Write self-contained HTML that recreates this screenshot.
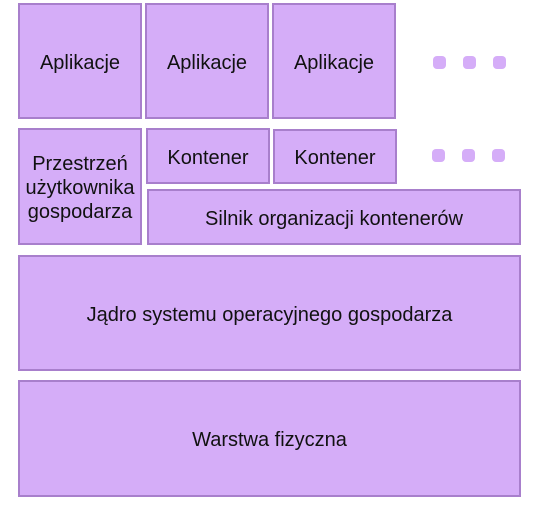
<!DOCTYPE html>
<html><head><meta charset="utf-8"><style>
body{margin:0;width:541px;height:507px;background:#fff;position:relative;font-family:"Liberation Sans",Arial,sans-serif;}
.b{position:absolute;box-sizing:border-box;background:#d5adf8;border:2px solid #a87fcc;display:flex;align-items:center;justify-content:center;text-align:center;font-size:20px;color:#111;line-height:24px;padding-top:3px;}
.d{position:absolute;width:13px;height:13px;border-radius:4px;background:#d5adf8;}
</style></head><body>
<div class="b" style="left:18px;top:3px;width:124px;height:116px">Aplikacje</div>
<div class="b" style="left:145px;top:3px;width:124px;height:116px">Aplikacje</div>
<div class="b" style="left:272px;top:3px;width:124px;height:116px">Aplikacje</div>
<div class="d" style="left:433px;top:56px"></div>
<div class="d" style="left:463px;top:56px"></div>
<div class="d" style="left:493px;top:56px"></div>
<div class="b" style="left:18px;top:128px;width:124px;height:117px">Przestrzeń<br>użytkownika<br>gospodarza</div>
<div class="b" style="left:146px;top:128px;width:124px;height:56px">Kontener</div>
<div class="b" style="left:273px;top:129px;width:124px;height:55px">Kontener</div>
<div class="d" style="left:432px;top:149px"></div>
<div class="d" style="left:462px;top:149px"></div>
<div class="d" style="left:492px;top:149px"></div>
<div class="b" style="left:147px;top:189px;width:374px;height:56px">Silnik organizacji kontenerów</div>
<div class="b" style="left:18px;top:255px;width:503px;height:116px">Jądro systemu operacyjnego gospodarza</div>
<div class="b" style="left:18px;top:380px;width:503px;height:117px">Warstwa fizyczna</div>
</body></html>
